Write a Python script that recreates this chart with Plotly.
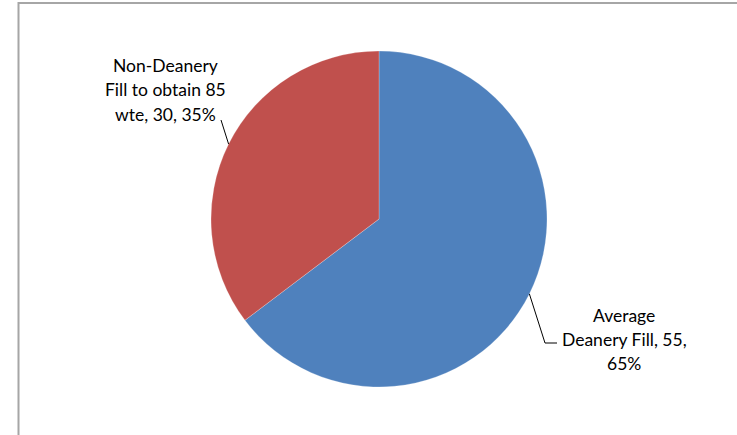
import math
import plotly.graph_objects as go

labels = ["Average Deanery Fill", "Non-Deanery Fill to obtain 85 wte"]
values = [55, 30]
colors = ["#4F81BD", "#C0504D"]
label_lines = [["Average", "Deanery Fill, 55,", "65%"],
               ["Non-Deanery", "Fill to obtain 85", "wte, 30, 35%"]]

W, H = 737, 435
cx, cy, r = 379, 219, 168  # pixel center / radius of pie

fig = go.Figure(go.Pie(
    labels=labels, values=values, sort=False, direction="clockwise", rotation=0,
    marker=dict(colors=colors, line=dict(color="rgba(255,255,255,0.4)", width=0.6)),
    textinfo="none", hoverinfo="label+value+percent", showlegend=False,
    domain=dict(x=[(cx - r) / W, (cx + r) / W], y=[(H - cy - r) / H, (H - cy + r) / H]),
))

shapes = [dict(type="rect", xref="paper", yref="paper", x0=18.5 / W, x1=1.2, y0=-0.2, y1=1 - 3 / H,
               line=dict(color="#A6A6A6", width=2), fillcolor="rgba(0,0,0,0)", layer="below")]
annotations = []

total = sum(values)
cum = 0
# label anchor (pixel) positions: center x, first-line y; line step
label_pos = [(624, 315), (165, 66)]
line_step = 24
elbows = [[(545, 343), (557, 343)], [(221, 120)]]
for i, v in enumerate(values):
    mid = (cum + v / 2) / total
    cum += v
    ang = 2 * math.pi * mid
    ex = cx + r * math.sin(ang)
    ey = cy - r * math.cos(ang)
    pts = [(ex, ey)] + elbows[i]
    for (x0, y0), (x1, y1) in zip(pts[:-1], pts[1:]):
        shapes.append(dict(type="line", xref="paper", yref="paper",
                           x0=x0 / W, y0=1 - y0 / H, x1=x1 / W, y1=1 - y1 / H,
                           line=dict(color="#000000", width=1)))
    lx, ly = label_pos[i]
    for k, txt in enumerate(label_lines[i]):
        annotations.append(dict(x=lx / W, y=1 - (ly + k * line_step) / H, xref="paper", yref="paper",
                                text=txt, showarrow=False,
                                align="center", xanchor="center", yanchor="middle",
                                font=dict(family="Lato", size=17.5, color="#000000")))

fig.update_layout(
    width=W, height=H, margin=dict(l=0, r=0, t=0, b=0),
    paper_bgcolor="white", plot_bgcolor="white",
    shapes=shapes, annotations=annotations,
)
fig.write_html("out.html")
